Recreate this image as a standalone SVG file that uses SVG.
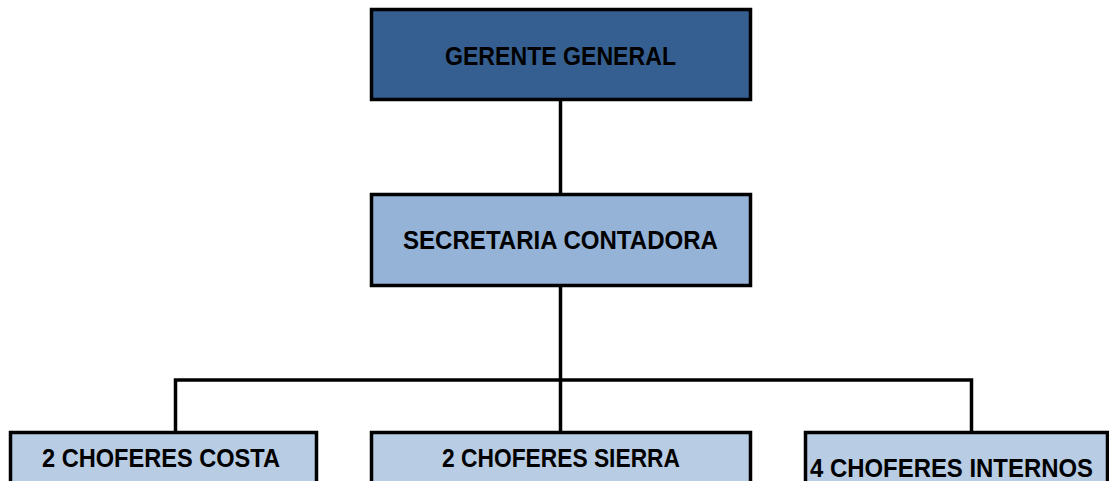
<svg xmlns="http://www.w3.org/2000/svg" width="1109" height="481" viewBox="0 0 1109 481">
<style>
.box{stroke:#000;stroke-width:3.5}
.lbl{font-family:"Liberation Sans",Arial,sans-serif;font-weight:bold;font-size:25px;fill:#000;text-anchor:middle}
.conn{stroke:#000;stroke-width:3.5;fill:none}
</style>
<rect width="1109" height="481" fill="#fff"/>
<g id="connectors">
<line class="conn" x1="560.5" y1="100" x2="560.5" y2="195"/>
<line class="conn" x1="560.5" y1="285" x2="560.5" y2="433"/>
<polyline class="conn" points="175.5,433 175.5,380 971.5,380 971.5,433"/>
</g>
<g id="gerente">
<rect class="box" x="371.5" y="9.5" width="379" height="90" fill="#365F91"/>
<text class="lbl" x="560.5" y="65" textLength="231" lengthAdjust="spacingAndGlyphs">GERENTE GENERAL</text>
</g>
<g id="secretaria">
<rect class="box" x="371.5" y="194.5" width="379" height="91" fill="#95B3D7"/>
<text class="lbl" x="560.5" y="249" textLength="315" lengthAdjust="spacingAndGlyphs">SECRETARIA CONTADORA</text>
</g>
<g id="costa">
<rect class="box" x="10.5" y="432.5" width="306" height="60" fill="#B8CCE4"/>
<text class="lbl" x="161" y="467" textLength="238" lengthAdjust="spacingAndGlyphs">2 CHOFERES COSTA</text>
</g>
<g id="sierra">
<rect class="box" x="371.5" y="432.5" width="379" height="60" fill="#B8CCE4"/>
<text class="lbl" x="561" y="467" textLength="238" lengthAdjust="spacingAndGlyphs">2 CHOFERES SIERRA</text>
</g>
<g id="internos">
<rect class="box" x="805.5" y="432.5" width="302" height="60" fill="#B8CCE4"/>
<text class="lbl" x="951.5" y="477" textLength="283" lengthAdjust="spacingAndGlyphs">4 CHOFERES INTERNOS</text>
</g>
</svg>
